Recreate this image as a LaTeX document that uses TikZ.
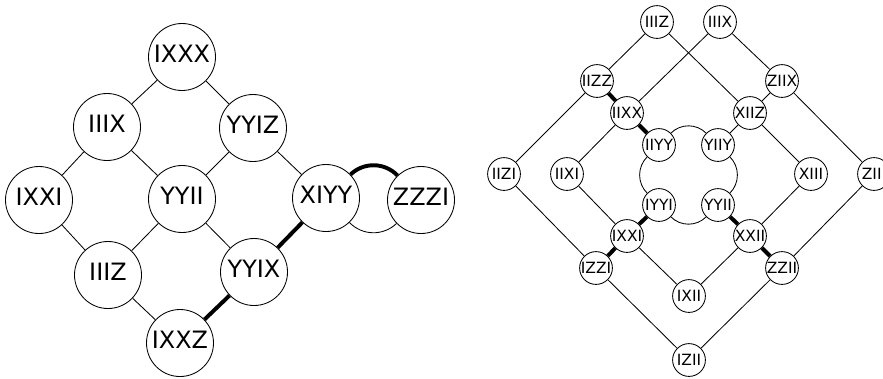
\documentclass[tikz,border=0pt]{standalone}
\usepackage{fontspec}
\setmainfont{DejaVu Sans}
\usetikzlibrary{arrows}

\begin{document}
\begin{tikzpicture}[x=0.25mm, y=-0.25mm,
		bigvertex/.style={circle,draw,fill=white,line width=0.6pt,inner sep=0pt,
		minimum size=16.75mm,text height=0.73em,text depth=0pt,
		font=\fontsize{17}{20}\selectfont},
		smallvertex/.style={circle,draw,fill=white,line width=0.6pt,inner sep=0pt,
		minimum size=8.2mm,text height=0.73em,text depth=0pt,
		font=\fontsize{11}{13}\selectfont},
		thinedge/.style={line width=0.6pt},
		thickedge/.style={line width=2.8pt}
		]
		\useasboundingbox (0,0) rectangle (883,378);

		\node[bigvertex](P0) at (182,57){IXXX};
		\node[bigvertex](P1) at (107,127){IIIX};
		\node[bigvertex](P2) at (253,128){YYIZ};
		\node[bigvertex](P3) at (39,200){IXXI};
		\node[bigvertex](P4) at (182,199){YYII};
		\node[bigvertex](P5) at (326,198){XIYY};
		\node[bigvertex](P6) at (421,200){ZZZI};
		\node[bigvertex](P7) at (108,275){IIIZ};
		\node[bigvertex](P8) at (254,272){YYIX};
		\node[bigvertex](P9) at (180,343){IXXZ};
		\draw[thinedge] (P0) -- (P1);
		\draw[thinedge] (P0) -- (P2);
		\draw[thinedge] (P1) -- (P3);
		\draw[thinedge] (P1) -- (P4);
		\draw[thinedge] (P2) -- (P4);
		\draw[thinedge] (P2) -- (P5);
		\draw[thinedge] (P3) -- (P7);
		\draw[thinedge] (P4) -- (P7);
		\draw[thinedge] (P4) -- (P8);
		\draw[thinedge] (P7) -- (P9);
		\draw[thickedge] (P9) -- (P8);
		\draw[thickedge] (P8) -- (P5);
		\draw[thickedge] (P5) to[bend left=45] (P6);
		\draw[thinedge] (P5) to[bend right=45] (P6);

		\node[smallvertex](Q0) at (657,22){IIIZ};
		\node[smallvertex](Q1) at (720,22){IIIX};
		\node[smallvertex](Q2) at (597,81){IIZZ};
		\node[smallvertex](Q3) at (782,81){ZIIX};
		\node[smallvertex](Q4) at (627,113){IIXX};
		\node[smallvertex](Q5) at (750,113){XIIZ};
		\node[smallvertex](Q6) at (659,145){IIYY};
		\node[smallvertex](Q7) at (718,145){YIIY};
		\node[smallvertex](Q8) at (504,174){IIZI};
		\node[smallvertex](Q9) at (567,174){IIXI};
		\node[smallvertex](Q10) at (811,174){XIII};
		\node[smallvertex](Q11) at (874,174){ZIII};
		\node[smallvertex](Q12) at (659,205){IYYI};
		\node[smallvertex](Q13) at (718,205){YYII};
		\node[smallvertex](Q14) at (627,236){IXXI};
		\node[smallvertex](Q15) at (750,236){XXII};
		\node[smallvertex](Q16) at (596,268){IZZI};
		\node[smallvertex](Q17) at (782,268){ZZII};
		\node[smallvertex](Q18) at (689,296){IXII};
		\node[smallvertex](Q19) at (689,360){IZII};
		\draw[thinedge] (Q0) -- (Q2);
		\draw[thinedge] (Q0) -- (Q5);
		\draw[thinedge] (Q1) -- (Q4);
		\draw[thinedge] (Q1) -- (Q3);
		\draw[thickedge] (Q2) -- (Q4);
		\draw[thinedge] (Q2) -- (Q8);
		\draw[thinedge] (Q3) -- (Q5);
		\draw[thinedge] (Q3) -- (Q11);
		\draw[thickedge] (Q4) -- (Q6);
		\draw[thinedge] (Q4) -- (Q9);
		\draw[thinedge] (Q5) -- (Q7);
		\draw[thinedge] (Q5) -- (Q10);
		\draw[thinedge] (Q6) to[bend left=45] (Q7);
		\draw[thinedge] (Q7) to[bend left=45] (Q13);
		\draw[thinedge] (Q13) to[bend left=45] (Q12);
		\draw[thinedge] (Q12) to[bend left=45] (Q6);
		\draw[thinedge] (Q9) -- (Q14);
		\draw[thinedge] (Q8) -- (Q16);
		\draw[thinedge] (Q10) -- (Q15);
		\draw[thinedge] (Q11) -- (Q17);
		\draw[thickedge] (Q12) -- (Q14);
		\draw[thickedge] (Q13) -- (Q15);
		\draw[thickedge] (Q14) -- (Q16);
		\draw[thickedge] (Q15) -- (Q17);
		\draw[thinedge] (Q14) -- (Q18);
		\draw[thinedge] (Q15) -- (Q18);
		\draw[thinedge] (Q16) -- (Q19);
		\draw[thinedge] (Q17) -- (Q19);
	\end{tikzpicture}
\end{document}
